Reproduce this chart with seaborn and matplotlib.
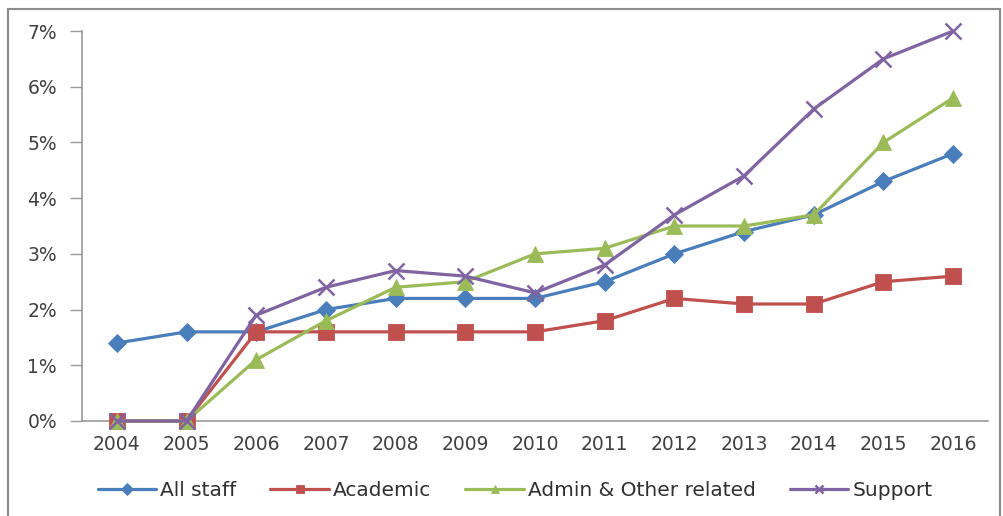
import numpy as np
import pandas as pd
import matplotlib
matplotlib.use("Agg")
import matplotlib.pyplot as plt
import seaborn as sns
from matplotlib.patches import Rectangle
from matplotlib.ticker import FixedLocator, FuncFormatter

years = [2004, 2005, 2006, 2007, 2008, 2009, 2010, 2011, 2012, 2013, 2014, 2015, 2016]
all_staff = [1.4, 1.6, 1.6, 2.0, 2.2, 2.2, 2.2, 2.5, 3.0, 3.4, 3.7, 4.3, 4.8]
academic = [0.0, 0.0, 1.6, 1.6, 1.6, 1.6, 1.6, 1.8, 2.2, 2.1, 2.1, 2.5, 2.6]
admin_other = [0.0, 0.0, 1.1, 1.8, 2.4, 2.5, 3.0, 3.1, 3.5, 3.5, 3.7, 5.0, 5.8]
support = [0.0, 0.0, 1.9, 2.4, 2.7, 2.6, 2.3, 2.8, 3.7, 4.4, 5.6, 6.5, 7.0]
series_names = ["All staff", "Academic", "Admin & Other related", "Support"]
y_ticks = [0, 1, 2, 3, 4, 5, 6, 7]

df = pd.DataFrame({
    "year": years * 4,
    "value": all_staff + academic + admin_other + support,
    "group": sum([[n] * len(years) for n in series_names], []),
})

sns.set_theme(style="white")
plt.rcParams["font.family"] = ["DejaVu Sans"]

colors = {"All staff": "#4a7ebb", "Academic": "#c0504d",
          "Admin & Other related": "#9bbb59", "Support": "#8064a2"}
markers = {"All staff": "D", "Academic": "s",
           "Admin & Other related": "^", "Support": "x"}
sizes = {"All staff": 9, "Academic": 11, "Admin & Other related": 11, "Support": 12}

fig = plt.figure(figsize=(10.04, 5.16), dpi=100)
ax = fig.add_axes([82 / 1004, 1 - 421 / 516, (988 - 82) / 1004, (421 - 31) / 516])

for name in series_names:
    sub = df[df["group"] == name]
    sns.lineplot(data=sub, x="year", y="value", ax=ax, color=colors[name],
                 linewidth=2.3, marker=markers[name], markersize=sizes[name],
                 markeredgewidth=1.8 if name == "Support" else 0.6,
                 markeredgecolor=colors[name], label=name, zorder=3)

ax.set_xlim(2003.5, 2016.5)
ax.set_ylim(0, 7)
ax.set_xlabel("")
ax.set_ylabel("")

ax.xaxis.set_major_locator(FixedLocator(years))
ax.xaxis.set_minor_locator(FixedLocator([y - 0.5 for y in years] + [2016.5]))
ax.set_xticklabels([str(y) for y in years])
ax.tick_params(axis="x", which="major", length=0, pad=10, labelsize=13.5, labelcolor="#404040")
ax.tick_params(axis="x", which="minor", length=5, width=1, color="#9a9a9a", direction="out")

ax.yaxis.set_major_locator(FixedLocator(y_ticks))
ax.yaxis.set_major_formatter(FuncFormatter(lambda v, p: f"{int(v)}%"))
ax.tick_params(axis="y", which="major", length=9, width=1, color="#9a9a9a",
               direction="out", left=True, pad=9, labelsize=13.5, labelcolor="#404040")

for s in ["top", "right"]:
    ax.spines[s].set_visible(False)
for s in ["left", "bottom"]:
    ax.spines[s].set_color("#9a9a9a")
    ax.spines[s].set_linewidth(1.2)
for ln in ax.lines:
    ln.set_clip_on(False)

handles, labels = ax.get_legend_handles_labels()
ax.legend(handles, labels, loc="center", bbox_to_anchor=((515 - 82) / 906, (421 - 491) / 390),
          ncol=4, frameon=False, fontsize=14.5, handlelength=2.9, columnspacing=1.7,
          handletextpad=0.2, labelcolor="#303030")
leg = ax.get_legend()
for h in leg.legend_handles:
    h.set_markersize(6)

# outer chart frame
fig.patches.append(Rectangle((8 / 1004, -0.1), (1000 - 8) / 1004, 1.1 - 9 / 516,
                             transform=fig.transFigure, fill=False,
                             edgecolor="#8c8c8c", linewidth=1.5))

fig.savefig("out.png", dpi=100)
